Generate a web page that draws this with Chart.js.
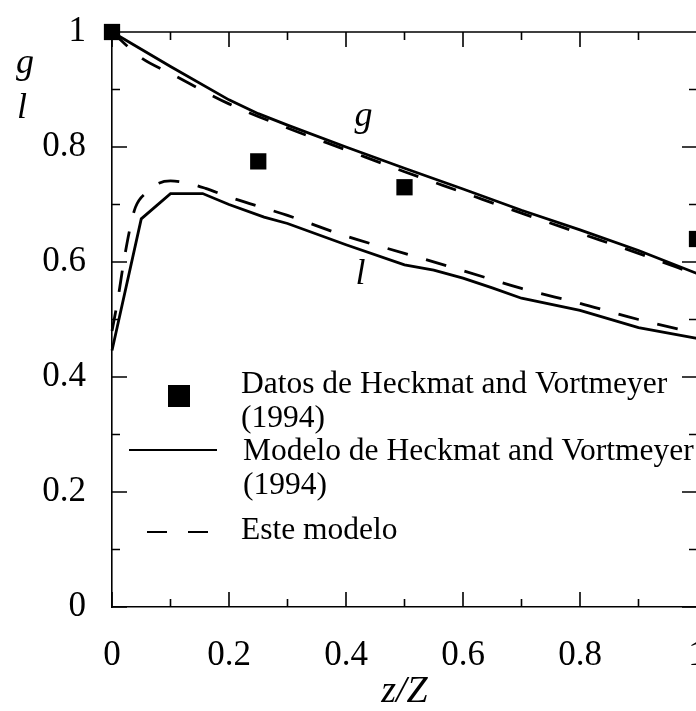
<!DOCTYPE html>
<html>
<head>
<meta charset="utf-8">
<script src="https://cdn.jsdelivr.net/npm/chart.js@4.4.0/dist/chart.umd.min.js"></script>
<style>
  html, body { margin: 0; padding: 0; background: #fff; overflow: hidden; }
  canvas { display: block; }
</style>
</head>
<body>
<canvas id="grafico" width="760" height="711"></canvas>
<script>
// Datos de Heckmat and Vortmeyer (1994)
var zDatos = [0, 0.25, 0.5, 1.0];
var gDatos = [1.0, 0.775, 0.73, 0.64];

// Modelo de Heckmat and Vortmeyer (1994), curvas g y l
var zModeloG = [0, 0.1, 0.2, 0.25, 0.3, 0.4, 0.5, 0.6, 0.7, 0.8, 0.9, 1.0];
var gModelo  = [1.0, 0.94, 0.882, 0.858, 0.838, 0.80, 0.763, 0.727, 0.69, 0.656, 0.62, 0.58];
var zModeloL = [0, 0.05, 0.1, 0.155, 0.2, 0.26, 0.3, 0.4, 0.5, 0.55, 0.6, 0.65, 0.7, 0.8, 0.9, 1.0];
var lModelo  = [0.446, 0.675, 0.719, 0.719, 0.70, 0.678, 0.667, 0.63, 0.595, 0.586, 0.572, 0.555, 0.537, 0.516, 0.486, 0.467];

// Este modelo, curvas g y l
var zEsteG = [0, 0.05, 0.1, 0.2, 0.3, 0.4, 0.5, 0.6, 0.7, 0.8, 0.9, 1.0];
var gEste  = [1.0, 0.955, 0.928, 0.875, 0.833, 0.795, 0.757, 0.721, 0.685, 0.65, 0.615, 0.578];
var zEsteL = [0, 0.01, 0.02, 0.03, 0.04, 0.06, 0.08, 0.1, 0.13, 0.16, 0.2, 0.3, 0.4, 0.5, 0.6, 0.7, 0.8, 0.9, 1.0];
var lEste  = [0.48, 0.535, 0.6, 0.655, 0.695, 0.722, 0.737, 0.741, 0.737, 0.728, 0.713, 0.681, 0.645, 0.615, 0.585, 0.554, 0.528, 0.5, 0.476];

var etiquetas = ['Datos de Heckmat and Vortmeyer', '(1994)', 'Modelo de Heckmat and Vortmeyer', '(1994)', 'Este modelo'];

function puntos(xs, ys) {
    return xs.map(function (x, i) { return { x: x, y: ys[i] }; });
}

// 0, 0.2, ... 1 sin decimales sobrantes
function formato(v) {
    return String(parseFloat(Number(v).toFixed(1)));
}

var fuente = 'Liberation Serif';

// marcos con marcas hacia dentro en los cuatro lados
var marcoPlugin = {
    id: 'marco',
    afterDraw: function (chart) {
        var ctx = chart.ctx;
        var a = chart.chartArea;
        var sx = chart.scales.x, sy = chart.scales.y;
        ctx.save();
        ctx.strokeStyle = '#000';
        ctx.lineWidth = 1.6;
        ctx.beginPath();
        ctx.moveTo(a.left, a.top); ctx.lineTo(a.right, a.top);
        ctx.moveTo(a.right, a.top); ctx.lineTo(a.right, a.bottom);
        for (var i = 0; i <= 10; i++) {
            var v = i / 10;
            var largo = (i % 2 === 0) ? 15 : 8;
            var px = sx.getPixelForValue(v);
            var py = sy.getPixelForValue(v);
            ctx.moveTo(px, a.bottom); ctx.lineTo(px, a.bottom - largo);
            ctx.moveTo(px, a.top); ctx.lineTo(px, a.top + largo);
            ctx.moveTo(a.left, py); ctx.lineTo(a.left + largo, py);
            ctx.moveTo(a.right, py); ctx.lineTo(a.right - largo, py);
        }
        ctx.stroke();

        // etiquetas de las curvas y del eje vertical
        ctx.fillStyle = '#000';
        ctx.font = 'italic 36px "' + fuente + '"';
        ctx.textAlign = 'center';
        ctx.textBaseline = 'alphabetic';
        ctx.fillText('g', sx.getPixelForValue(0.43), sy.getPixelForValue(0.836));
        ctx.fillText('l', sx.getPixelForValue(0.425), sy.getPixelForValue(0.561));
        ctx.fillText('g', 25, 73);
        ctx.fillText('l', 22, 118);

        // leyenda
        ctx.fillRect(168, 385, 22, 22);
        ctx.lineWidth = 2;
        ctx.beginPath();
        ctx.moveTo(129, 450); ctx.lineTo(217, 450);
        ctx.stroke();
        ctx.setLineDash([20, 21]);
        ctx.beginPath();
        ctx.moveTo(147, 532); ctx.lineTo(212, 532);
        ctx.stroke();
        ctx.setLineDash([]);
        ctx.font = '31.5px "' + fuente + '"';
        ctx.textAlign = 'left';
        var bases = [393, 427, 460, 494, 539];
        etiquetas.forEach(function (t, i) { ctx.fillText(t, i === 2 || i === 3 ? 243 : 241, bases[i]); });
        ctx.restore();
    }
};

var ctx = document.getElementById('grafico').getContext('2d');
var grafico = new Chart(ctx, {
    type: 'scatter',
    data: {
        datasets: [{
            label: 'Datos de Heckmat and Vortmeyer (1994)',
            data: puntos(zDatos, gDatos),
            pointStyle: 'rect',
            pointRadius: 11.5,
            pointBackgroundColor: '#000',
            pointBorderWidth: 0,
            showLine: false,
            order: 0
        }, {
            label: 'Modelo g',
            data: puntos(zModeloG, gModelo),
            showLine: true,
            borderColor: '#000',
            borderWidth: 2.8,
            pointRadius: 0,
            tension: 0,
            order: 1
        }, {
            label: 'Modelo l',
            data: puntos(zModeloL, lModelo),
            showLine: true,
            borderColor: '#000',
            borderWidth: 2.8,
            pointRadius: 0,
            tension: 0,
            order: 1
        }, {
            label: 'Este modelo g',
            data: puntos(zEsteG, gEste),
            showLine: true,
            borderColor: '#000',
            borderWidth: 2.8,
            borderDash: [21, 19],
            pointRadius: 0,
            cubicInterpolationMode: 'monotone',
            order: 2
        }, {
            label: 'Este modelo l',
            data: puntos(zEsteL, lEste),
            showLine: true,
            borderColor: '#000',
            borderWidth: 2.8,
            borderDash: [21, 19],
            pointRadius: 0,
            cubicInterpolationMode: 'monotone',
            order: 2
        }]
    },
    options: {
        responsive: false,
        animation: false,
        clip: false,
        layout: { autoPadding: false, padding: { left: 0, right: 63, top: 32, bottom: 0 } },
        plugins: {
            legend: { display: false },
            tooltip: { enabled: false }
        },
        scales: {
            x: {
                type: 'linear',
                min: 0,
                max: 1,
                grid: { display: false },
                border: { display: true, color: '#000', width: 1.6 },
                ticks: {
                    stepSize: 0.2,
                    color: '#000',
                    padding: 20,
                    maxRotation: 0,
                    font: { family: fuente, size: 35 },
                    callback: formato
                },
                title: {
                    display: true,
                    text: 'z/Z',
                    color: '#000',
                    padding: 0,
                    font: { family: fuente, size: 38, style: 'italic', lineHeight: 1 }
                },
                afterFit: function (s) { s.height = 104; s.paddingLeft = 0; s.paddingRight = 0; }
            },
            y: {
                min: 0,
                max: 1,
                grid: { display: false },
                border: { display: true, color: '#000', width: 1.6 },
                ticks: {
                    stepSize: 0.2,
                    color: '#000',
                    padding: 18,
                    font: { family: fuente, size: 35 },
                    callback: formato
                },
                afterFit: function (s) { s.width = 112; s.paddingTop = 0; s.paddingBottom = 0; }
            }
        }
    },
    plugins: [marcoPlugin]
});
</script>
</body>
</html>
